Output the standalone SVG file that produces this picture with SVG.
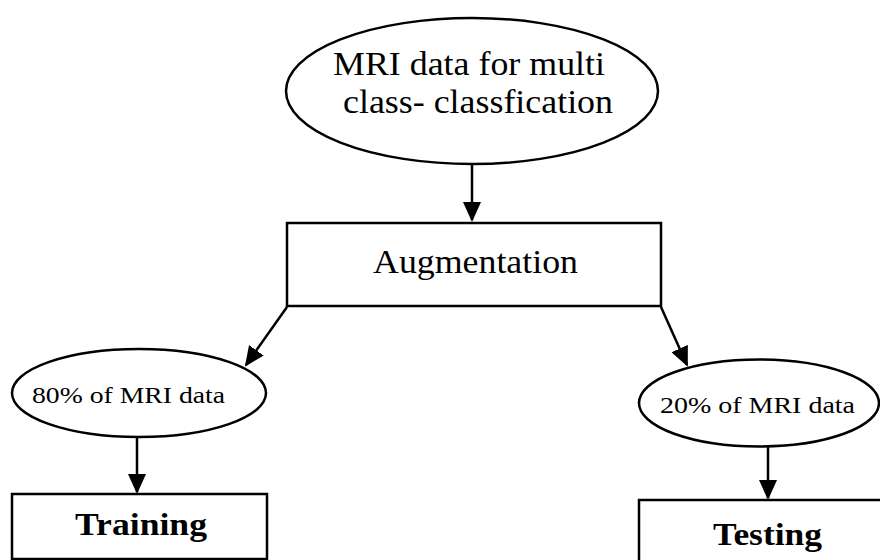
<svg xmlns="http://www.w3.org/2000/svg" width="880" height="560" viewBox="0 0 880 560">
  <defs>
    <marker id="arrow" markerUnits="userSpaceOnUse" markerWidth="20" markerHeight="18" refX="18" refY="9" orient="auto">
      <path d="M0,0 L20,9 L0,18 z" fill="#000"/>
    </marker>
    <style>
      .shape { fill: #fff; stroke: #000; stroke-width: 2.5; }
      .conn { stroke: #000; stroke-width: 2.5; fill: none; marker-end: url(#arrow); }
      .txt { font-family: "Liberation Serif", "Times New Roman", Times, serif; fill: #000; }
      .bold { font-weight: bold; }
    </style>
  </defs>
  <rect width="880" height="560" fill="#fff"/>

  <g id="connectors">
    <line class="conn" x1="472" y1="165" x2="472" y2="220"/>
    <line class="conn" x1="287" y1="307" x2="246" y2="365"/>
    <line class="conn" x1="661" y1="307" x2="687" y2="365"/>
    <line class="conn" x1="137" y1="437" x2="137" y2="492"/>
    <line class="conn" x1="768" y1="447" x2="768" y2="498"/>
  </g>

  <g id="node-mri">
    <ellipse class="shape" cx="472" cy="91" rx="186" ry="73"/>
    <text class="txt" x="333" y="75" font-size="34" textLength="272" lengthAdjust="spacingAndGlyphs">MRI data for multi</text>
    <text class="txt" x="343" y="113" font-size="34" textLength="270" lengthAdjust="spacingAndGlyphs">class- classfication</text>
  </g>

  <g id="node-augmentation">
    <rect class="shape" x="287" y="223" width="374" height="83"/>
    <text class="txt" x="373" y="273" font-size="34" textLength="205" lengthAdjust="spacingAndGlyphs">Augmentation</text>
  </g>

  <g id="node-80">
    <ellipse class="shape" cx="139" cy="393" rx="127" ry="44"/>
    <text class="txt" x="32" y="403" font-size="23" textLength="193" lengthAdjust="spacingAndGlyphs">80% of MRI data</text>
  </g>

  <g id="node-20">
    <ellipse class="shape" cx="759" cy="403" rx="120" ry="43.5"/>
    <text class="txt" x="660" y="413" font-size="23" textLength="195" lengthAdjust="spacingAndGlyphs">20% of MRI data</text>
  </g>

  <g id="node-training">
    <rect class="shape" x="12" y="494" width="255" height="65"/>
    <text class="txt bold" x="75" y="535" font-size="32" textLength="132" lengthAdjust="spacingAndGlyphs">Training</text>
  </g>

  <g id="node-testing">
    <rect class="shape" x="639" y="500" width="260" height="80"/>
    <text class="txt bold" x="713" y="545" font-size="32" textLength="109" lengthAdjust="spacingAndGlyphs">Testing</text>
  </g>
</svg>
